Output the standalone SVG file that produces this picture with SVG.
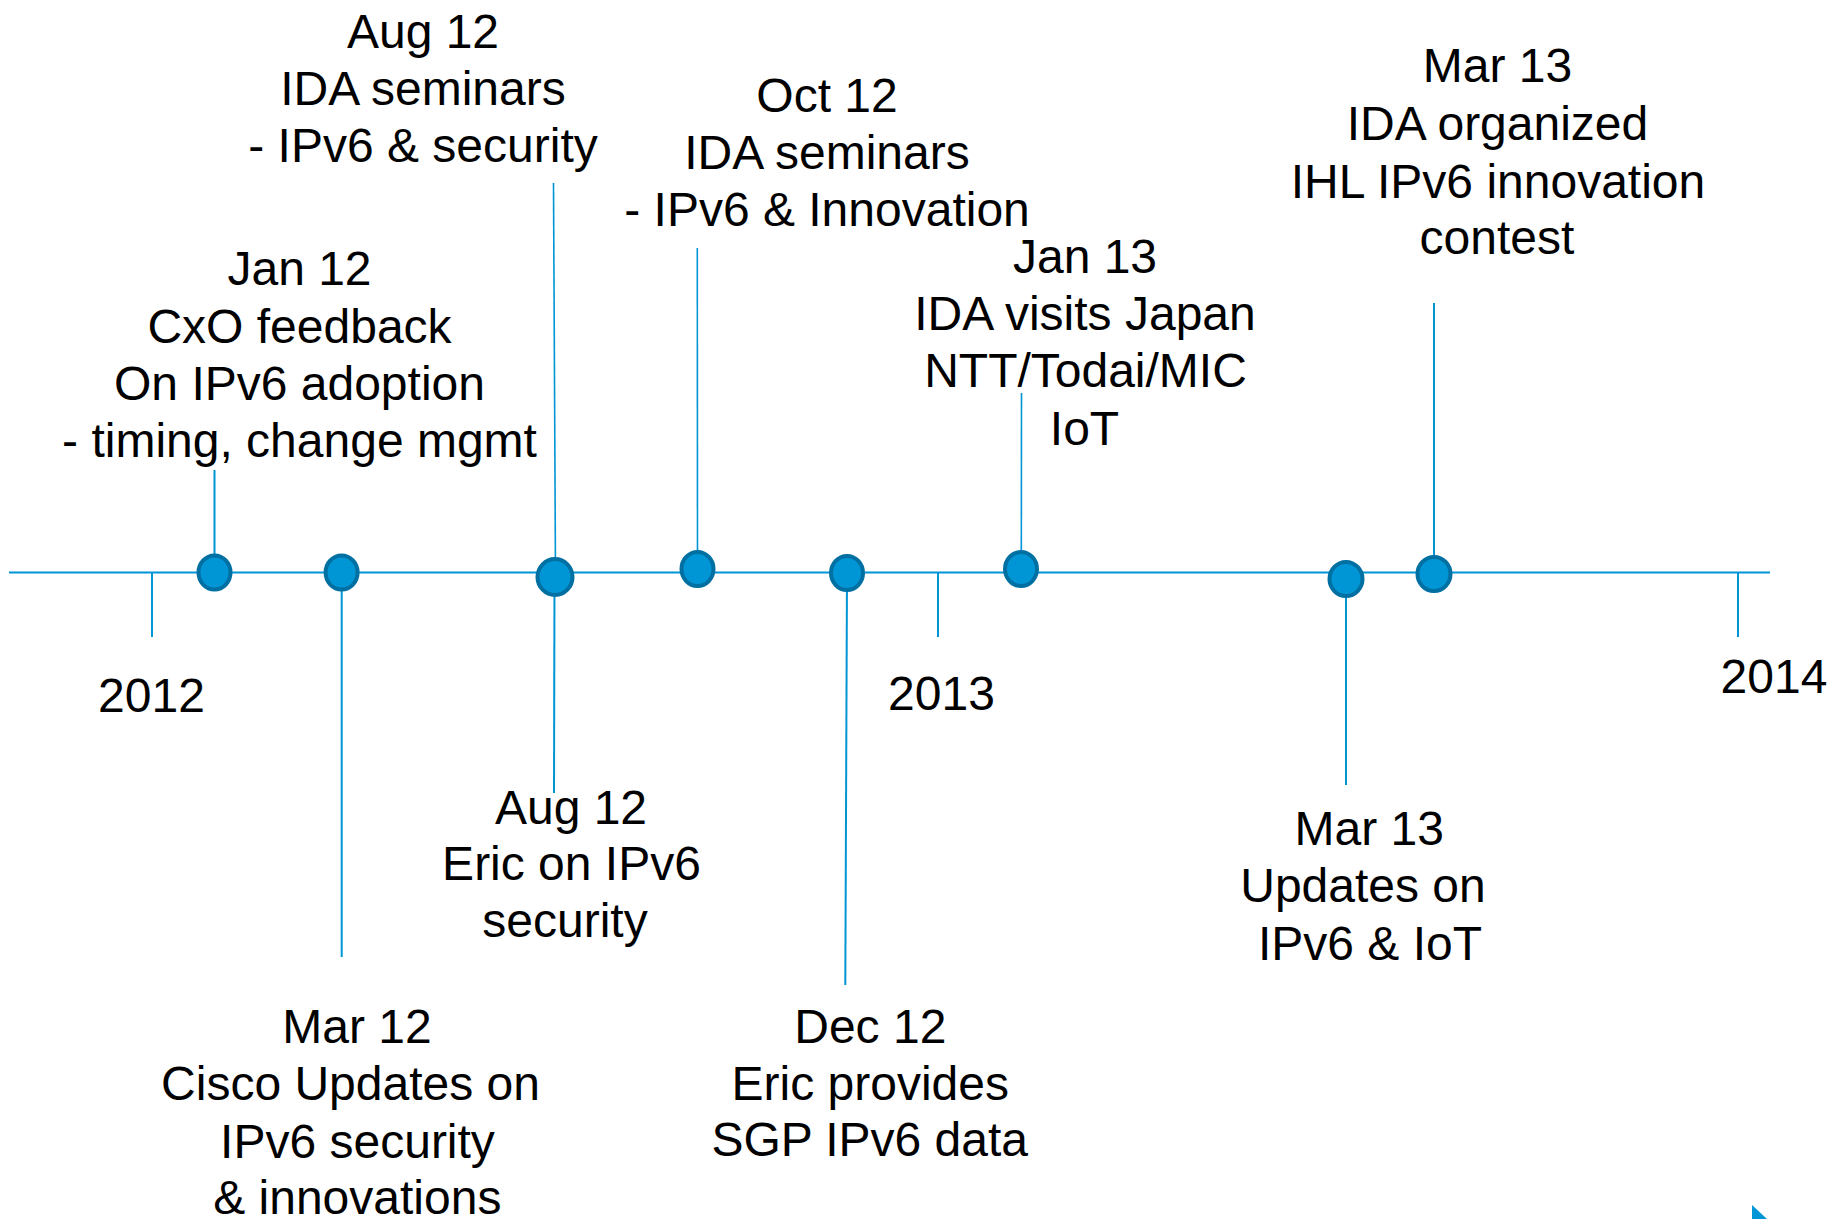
<svg xmlns="http://www.w3.org/2000/svg" width="1847" height="1219" viewBox="0 0 1847 1219">
<style>
.t{font-family:"Liberation Sans",Arial,Helvetica,sans-serif;font-size:48px;fill:#000;text-anchor:middle}
.ln{stroke:#0095D5;stroke-width:2;fill:none}
.thin{stroke:#0095D5;stroke-width:1.6;fill:none}
.dot{fill:#0095D5;stroke:#0070A3;stroke-width:4}
</style>
<rect width="1847" height="1219" fill="#fff"/>
<g id="connectors">
<line class="ln" x1="9" y1="572.5" x2="1770" y2="572.5"/>
<line class="ln" x1="152" y1="572.5" x2="152" y2="637"/>
<line class="ln" x1="938" y1="572.5" x2="938" y2="637"/>
<line class="ln" x1="1738" y1="572.5" x2="1738" y2="637"/>
<line class="ln" x1="214.5" y1="470" x2="214.5" y2="572"/>
<line class="ln" x1="341.7" y1="572" x2="341.7" y2="957"/>
<line class="thin" x1="553.5" y1="183" x2="555.5" y2="577"/>
<line class="ln" x1="554.5" y1="577" x2="554" y2="793"/>
<line class="thin" x1="697.3" y1="248" x2="697.5" y2="569"/>
<line class="ln" x1="847" y1="573" x2="845.3" y2="985"/>
<line class="thin" x1="1021.5" y1="393" x2="1021.3" y2="569"/>
<line class="ln" x1="1346" y1="579" x2="1346" y2="785"/>
<line class="ln" x1="1434" y1="303" x2="1434" y2="574"/>
</g>
<g id="y2012"><text class="t" x="151.5" y="711.5">2012</text></g>
<g id="y2013"><text class="t" x="941.5" y="709.5">2013</text></g>
<g id="y2014"><text class="t" x="1774" y="692.5">2014</text></g>
<g id="jan12">
<ellipse class="dot" cx="214.5" cy="572.5" rx="16" ry="17"/>
<text class="t" x="299.5" y="285">Jan 12</text>
<text class="t" x="299.5" y="342.5">CxO feedback</text>
<text class="t" x="299.5" y="400">On IPv6 adoption</text>
<text class="t" x="299.5" y="457">- timing, change mgmt</text>
</g>
<g id="mar12">
<ellipse class="dot" cx="341.6" cy="572.5" rx="16" ry="17"/>
<text class="t" x="357" y="1043">Mar 12</text>
<text class="t" x="350.5" y="1099.5">Cisco Updates on</text>
<text class="t" x="357.5" y="1157.5">IPv6 security</text>
<text class="t" x="357.3" y="1214">&amp; innovations</text>
</g>
<g id="aug12a">
<ellipse class="dot" cx="555" cy="577" rx="17.5" ry="18"/>
<text class="t" x="423" y="47.5">Aug 12</text>
<text class="t" x="423" y="104.5">IDA seminars</text>
<text class="t" x="423" y="161.5">- IPv6 &amp; security</text>
</g>
<g id="aug12b">
<text class="t" x="571" y="823.5">Aug 12</text>
<text class="t" x="571.5" y="880">Eric on IPv6</text>
<text class="t" x="565" y="937">security</text>
</g>
<g id="oct12">
<ellipse class="dot" cx="697.5" cy="569" rx="16" ry="17"/>
<text class="t" x="827" y="111.5">Oct 12</text>
<text class="t" x="827" y="168.5">IDA seminars</text>
<text class="t" x="827" y="226">- IPv6 &amp; Innovation</text>
</g>
<g id="dec12">
<ellipse class="dot" cx="847" cy="573" rx="16" ry="17"/>
<text class="t" x="870.3" y="1042.5">Dec 12</text>
<text class="t" x="870.3" y="1099.5">Eric provides</text>
<text class="t" x="869.7" y="1156">SGP IPv6 data</text>
</g>
<g id="jan13">
<ellipse class="dot" cx="1021" cy="569" rx="16" ry="17"/>
<text class="t" x="1085" y="272.5">Jan 13</text>
<text class="t" x="1085" y="330">IDA visits Japan</text>
<text class="t" x="1085.5" y="387">NTT/Todai/MIC</text>
<text class="t" x="1084.5" y="445">IoT</text>
</g>
<g id="mar13a">
<ellipse class="dot" cx="1346" cy="579" rx="16.5" ry="17"/>
<text class="t" x="1369.3" y="845">Mar 13</text>
<text class="t" x="1363" y="901.5">Updates on</text>
<text class="t" x="1370" y="959.5">IPv6 &amp; IoT</text>
</g>
<g id="mar13b">
<ellipse class="dot" cx="1434" cy="574" rx="16.5" ry="17"/>
<text class="t" x="1497.5" y="81.5">Mar 13</text>
<text class="t" x="1497.5" y="139.5">IDA organized</text>
<text class="t" x="1498" y="197.5">IHL IPv6 innovation</text>
<text class="t" x="1497" y="254">contest</text>
</g>
<polygon points="1752,1205 1767,1219 1752,1219" fill="#0095D5"/>
</svg>
